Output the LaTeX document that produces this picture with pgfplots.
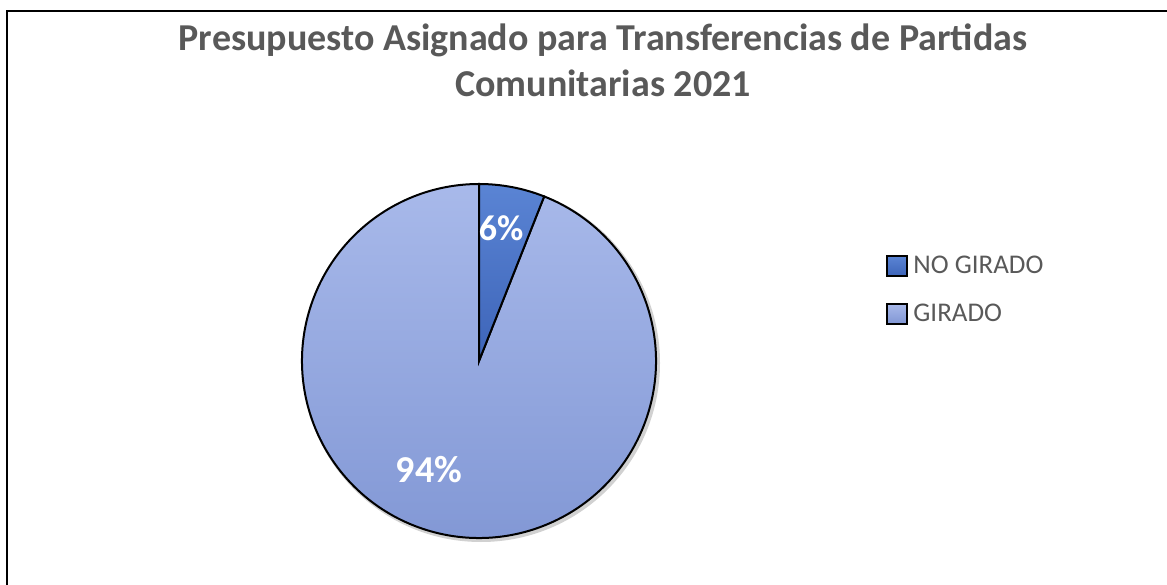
\documentclass[border=0pt]{standalone}
\usepackage{pgfplots}
\pgfplotsset{compat=1.18}
\usepackage{fontspec}
\setmainfont{Carlito}
\definecolor{titlegray}{HTML}{595959}
\definecolor{darktop}{HTML}{5A84D4}
\definecolor{darkbot}{HTML}{3D64B8}
\definecolor{lighttop}{HTML}{A8B9EA}
\definecolor{lightbot}{HTML}{8096D4}
\begin{document}
\begin{tikzpicture}
\useasboundingbox (0,0) rectangle (583.5pt,292pt);
\begin{axis}[at={(0,0)}, anchor=south west, width=583.5pt, height=292pt,
  scale only axis, xmin=0, xmax=1167, ymin=0, ymax=584, hide axis, clip=false,
  legend image code/.code={\draw[#1] (0pt,-5pt) rectangle (10pt,5pt); \path (11.5pt,0pt);},
  legend style={at={(axis cs:886,294)}, anchor=west, draw=none, fill=none,
    font=\fontsize{13.5}{16}\selectfont, text=titlegray, inner sep=0pt,
    row sep=11.5pt, nodes={inner sep=1pt}},
  legend cell align=left]
\addlegendimage{draw=black, line width=1pt, top color=darktop, bottom color=darkbot}
\addlegendimage{draw=black, line width=1pt, top color=lighttop, bottom color=lightbot}
\legend{NO GIRADO, GIRADO}
% data (percent)
\pgfmathsetmacro{\nogirado}{6}
\pgfmathsetmacro{\girado}{94}
\pgfmathsetmacro{\split}{90-3.6*\nogirado}
% shadow
\fill[black, opacity=0.18] (axis cs:481,221) circle[radius=89.5pt];
% slices
\filldraw[draw=black, line width=1pt, top color=lighttop, bottom color=lightbot]
  (axis cs:479,223) -- ++(\split:88.5pt) arc[start angle=\split, end angle=-270, radius=88.5pt] -- cycle;
\filldraw[draw=black, line width=1pt, top color=darktop, bottom color=darkbot]
  (axis cs:479,223) -- ++(90:88.5pt) arc[start angle=90, end angle=\split, radius=88.5pt] -- cycle;
% labels
\node[text=white, font=\bfseries\fontsize{18}{20}\selectfont] at (axis cs:501,356) {6\%};
\node[text=white, font=\bfseries\fontsize{19}{21}\selectfont] at (axis cs:429,114) {94\%};
% title
\node[align=center, anchor=base, text=titlegray, font=\bfseries\fontsize{19}{23}\selectfont] at (axis cs:603,487)
  {Presupuesto Asignado para Transferencias de Partidas\\Comunitarias 2021};
% frame
\draw[black, line width=1pt] (axis cs:6.5,-20) -- (axis cs:6.5,573) -- (axis cs:1200,573);
\end{axis}
\end{tikzpicture}
\end{document}
